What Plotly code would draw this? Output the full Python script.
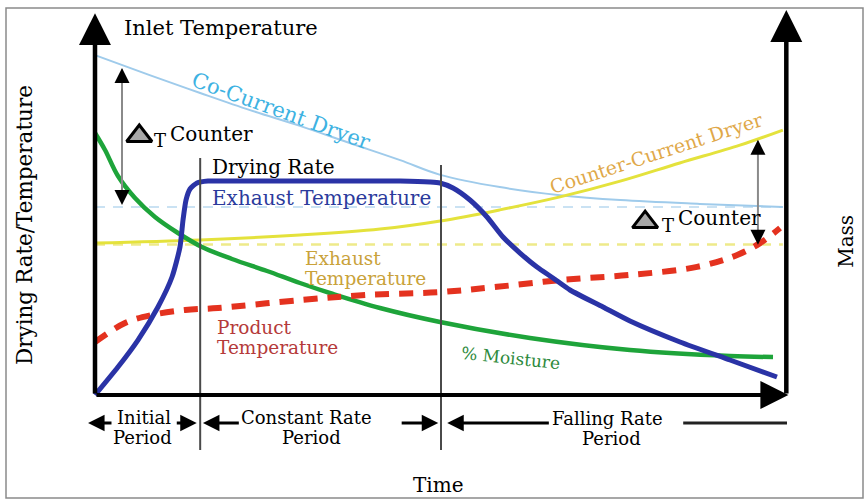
import plotly.graph_objects as go

# ---- data (time 0..10, value 0..10, schematic units) ----
co_t = [0, 0.79, 1.52, 2.24, 2.96, 3.68, 4.41, 4.99, 5.85, 6.72, 7.59, 8.74, 9.94]
co_v = [9.71, 9.14, 8.63, 8.14, 7.69, 7.2, 6.71, 6.29, 5.94, 5.71, 5.57, 5.46, 5.37]
co_exhaust = 5.37

cc_t = [0, 1.52, 2.96, 4.12, 4.99, 5.85, 6.72, 7.59, 8.45, 9.32, 9.94]
cc_v = [4.34, 4.43, 4.57, 4.74, 4.97, 5.29, 5.66, 6.11, 6.63, 7.14, 7.57]
cc_exhaust = 4.3

rate_t = [0, 0.332, 0.621, 0.910, 1.113, 1.228, 1.272, 1.315, 1.373, 1.474, 1.633, 1.951,
          2.962, 4.408, 4.841, 4.986, 5.173, 5.419, 5.665, 5.896, 6.142, 6.387, 6.618,
          6.864, 7.341, 7.731, 8.454, 9.176, 9.855]
rate_v = [0, 0.8, 1.571, 2.514, 3.371, 4.229, 5.0, 5.571, 5.886, 6.057, 6.114, 6.114,
          6.114, 6.114, 6.086, 6.057, 5.914, 5.571, 5.086, 4.514, 4.057, 3.657, 3.343,
          3.0, 2.514, 2.114, 1.514, 1.0, 0.514]

moist_t = [0, 0.145, 0.332, 0.578, 0.867, 1.199, 1.546, 1.980, 2.486, 2.962, 3.439, 4.118,
           4.986, 6.286, 7.731, 9.176, 9.798]
moist_v = [7.486, 7.0, 6.257, 5.629, 5.086, 4.629, 4.229, 3.886, 3.543, 3.2, 2.886, 2.486,
           2.086, 1.629, 1.286, 1.114, 1.086]

prod_t = [0, 0.434, 0.824, 1.301, 1.777, 2.96, 3.93, 4.99, 5.81, 6.76, 7.73, 8.70, 9.28, 9.61, 9.90]
prod_v = [1.514, 2.057, 2.286, 2.429, 2.486, 2.71, 2.86, 2.94, 3.09, 3.29, 3.43, 3.66, 4.0, 4.34, 4.77]

phase_bounds = [1.52, 5.0]
phase_tops = [6.77, 6.57]
t_end = 10.0

SERIF = "DejaVu Serif"

fig = go.Figure()

def line(x, y, color, width, dash=None, shape="linear", smoothing=1.0):
    fig.add_trace(go.Scatter(x=x, y=y, mode="lines", hoverinfo="skip",
                             line=dict(color=color, width=width, dash=dash, shape=shape,
                                       smoothing=smoothing)))

# dashed horizontal reference levels
line([0, cc_t[-1]], [cc_exhaust, cc_exhaust], "#eeea8a", 2.5, dash="10px,8px")
line([0, co_t[-1]], [co_exhaust, co_exhaust], "#b9d9f0", 1.5, dash="10px,8px")
# co-current / counter-current
line(co_t, co_v, "#9fcbeb", 2, shape="spline")
line(cc_t, cc_v, "#e4e23c", 3, shape="spline")
# moisture
line(moist_t, moist_v, "#1ea43a", 4.5, shape="spline")
# product temperature
line(prod_t, prod_v, "#e4321f", 6, dash="14px,10px", shape="spline")
# drying rate
line(rate_t, rate_v, "#2a33a6", 5, shape="spline", smoothing=0.6)

# phase boundary verticals
for pb, top in zip(phase_bounds, phase_tops):
    line([pb, pb], [top, -1.57], "#4a4a4a", 2)

# delta-T shafts
line([0.39, 0.39], [5.5, 9.3], "#8a8a8a", 2)
line([9.58, 9.58], [4.35, 7.25], "#8a8a8a", 2)

# delta-T triangles
fig.add_trace(go.Scatter(x=[0.64, 7.95], y=[7.4, 4.94], mode="markers",
                         marker=dict(symbol="triangle-up", size=22, color="#a8a8a8",
                                     line=dict(color="black", width=3)), hoverinfo="skip"))

# period line without head
line([8.5, t_end], [-0.8, -0.8], "#222222", 3)

ann = []

def arrow(x, y, ax, ay, width=4, head=2, size=1.0, color="black"):
    ann.append(dict(x=x, y=y, ax=ax, ay=ay, xref="x", yref="y", axref="x", ayref="y",
                    showarrow=True, arrowhead=head, arrowsize=size, arrowwidth=width,
                    arrowcolor=color, text=""))

# axes
arrow(0, 10.91, 0, 0, width=4.5, size=1.42)
arrow(9.99, 11.0, 9.99, 0, width=4.5, size=1.42)
arrow(10.02, 0, 0, 0, width=4, size=1.4)

# delta-T arrow heads
arrow(0.39, 9.34, 0.39, 9.0, width=2, size=1.5)
arrow(0.39, 5.43, 0.39, 5.8, width=2, size=1.5)
arrow(9.58, 7.29, 9.58, 6.95, width=2, size=1.5)
arrow(9.58, 4.29, 9.58, 4.65, width=2, size=1.5)

# period arrows
pv = -0.8
arrow(-0.10, pv, 0.26, pv, width=3, size=1.1)
arrow(1.47, pv, 1.16, pv, width=3, size=1.1)
arrow(1.56, pv, 2.10, pv, width=3, size=1.1)
arrow(4.96, pv, 4.41, pv, width=3, size=1.1)
arrow(5.09, pv, 6.58, pv, width=3, size=1.1)


def text(x, y, s, size=18, color="black", angle=0, xanchor="center"):
    ann.append(dict(x=x, y=y, xref="x", yref="y", text=s, showarrow=False,
                    font=dict(family=SERIF, size=size, color=color), textangle=angle,
                    xanchor=xanchor, yanchor="middle"))

text(0.39, 10.49, "Inlet Temperature", size=21, xanchor="left")
text(2.69, 8.11, "Co-Current Dryer", size=21, color="#3db2e2", angle=20)
text(1.66, 6.51, "Drying Rate", size=20, xanchor="left")
text(1.66, 5.63, "Exhaust Temperature", size=20, color="#2b3a9c", xanchor="left")
text(8.11, 6.91, "Counter-Current Dryer", size=19, color="#e0a848", angle=-18)
text(3.0, (395 - 258) / 35, "Exhaust", size=18.5, color="#c9a23a", xanchor="left")
text(3.0, (395 - 278) / 35, "Temperature", size=18.5, color="#c9a23a", xanchor="left")
text(1.73, (395 - 327) / 35, "Product", size=18.5, color="#b53a3a", xanchor="left")
text(1.73, (395 - 347) / 35, "Temperature", size=18.5, color="#b53a3a", xanchor="left")
text(6.0, 1.06, "% Moisture", size=17, color="#2d8a3c", angle=6)
text(-1.01, 4.86, "Drying Rate/Temperature", size=21.5, angle=-90)
text(10.85, 4.4, "Mass", size=20, angle=-90)
text(4.96, -2.57, "Time", size=20)
text(0.71, (395 - 417) / 35, "Initial", size=18)
text(0.68, (395 - 437) / 35, "Period", size=18)
text(3.06, (395 - 417) / 35, "Constant Rate", size=18)
text(3.13, (395 - 437) / 35, "Period", size=18)
text(7.41, (395 - 418) / 35, "Falling Rate", size=18)
text(7.46, (395 - 438) / 35, "Period", size=18)
text(0.82, 7.27, "T", size=18, xanchor="left")
text(1.05, 7.46, "Counter", size=20, xanchor="left")
text(8.16, 4.84, "T", size=18, xanchor="left")
text(8.4, 5.06, "Counter", size=20, xanchor="left")

fig.update_layout(
    width=867, height=499, autosize=False,
    margin=dict(l=0, r=0, t=0, b=0),
    paper_bgcolor="white", plot_bgcolor="white",
    showlegend=False,
    xaxis=dict(range=[-95 / 69.2, (867 - 95) / 69.2], visible=False, fixedrange=True),
    yaxis=dict(range=[(395 - 499) / 35, 395 / 35], visible=False, fixedrange=True),
    annotations=ann,
    shapes=[dict(type="rect", xref="paper", yref="paper", x0=6 / 867, x1=863 / 867,
                 y0=1 - 498 / 499, y1=1 - 8 / 499, line=dict(color="#8a8a8a", width=1.5))],
)

fig.write_html("out.html", config={"displayModeBar": False},
               post_script="document.body.style.margin='0px';")
